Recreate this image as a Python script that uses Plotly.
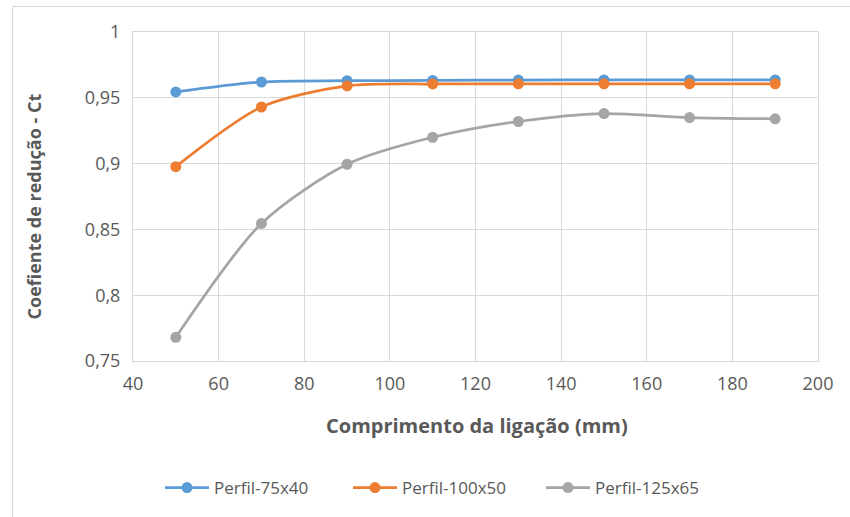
import plotly.graph_objects as go

x_vals = [50, 70, 90, 110, 130, 150, 170, 190]
perfil_75x40 = [0.9545, 0.962, 0.963, 0.9632, 0.9635, 0.9636, 0.9636, 0.9636]
perfil_100x50 = [0.8977, 0.943, 0.959, 0.9605, 0.9606, 0.9606, 0.9606, 0.9606]
perfil_125x65 = [0.768, 0.8545, 0.8995, 0.920, 0.932, 0.938, 0.935, 0.934]
names = ["Perfil-75x40", "Perfil-100x50", "Perfil-125x65"]
colors = ["#5B9BD5", "#ED7D31", "#A5A5A5"]
y_ticks = [0.75, 0.8, 0.85, 0.9, 0.95, 1]
y_ticktext = ["0,75", "0,8", "0,85", "0,9", "0,95", "1"]
x_ticks = [40, 60, 80, 100, 120, 140, 160, 180, 200]

FONT = "'Open Sans', sans-serif"
TXT = "#595959"

L, R, T, B = 133, 32, 32, 155
W, H = 850, 517
pw, ph = W - L - R, H - T - B

def px(xp):
    return (xp - L) / pw

def py(yp):
    return (H - B - yp) / ph

legend_ids = ["legend", "legend2", "legend3"]
legend_x = [160, 348, 541]

fig = go.Figure()
for ys, n, c, lg in zip([perfil_75x40, perfil_100x50, perfil_125x65], names, colors, legend_ids):
    fig.add_trace(go.Scatter(
        x=x_vals, y=ys, name=n, mode="lines+markers", legend=lg,
        line=dict(color=c, width=2.75, shape="spline", smoothing=0.8),
        marker=dict(color=c, size=11),
    ))

legend_common = dict(orientation="h", yanchor="middle", xanchor="left", itemwidth=44,
                     font=dict(family=FONT, size=17, color=TXT), bgcolor="rgba(0,0,0,0)")
layout_legends = {}
for lg, lx in zip(legend_ids, legend_x):
    layout_legends[lg] = dict(legend_common, x=px(lx), y=py(488))

fig.update_layout(
    width=W, height=H,
    margin=dict(l=L, r=R, t=T, b=B),
    paper_bgcolor="white", plot_bgcolor="white",
    font=dict(family=FONT, size=18, color=TXT),
    showlegend=True,
    xaxis=dict(range=[40, 200], tickvals=x_ticks, showgrid=True, gridcolor="#d9d9d9",
               gridwidth=1, zeroline=False, showline=True, linecolor="#d9d9d9", mirror=True,
               ticks="", ticklabelstandoff=6, tickfont=dict(family=FONT, size=18, color=TXT)),
    yaxis=dict(range=[0.75, 1], tickvals=y_ticks, ticktext=y_ticktext, showgrid=True,
               gridcolor="#d9d9d9", gridwidth=1, zeroline=False, showline=True,
               linecolor="#d9d9d9", mirror=True, ticks="", ticklabelstandoff=8,
               tickfont=dict(family=FONT, size=18, color=TXT)),
    annotations=[
        dict(text="<b>Comprimento da ligação (mm)</b>", x=px(477), y=py(427), xref="paper", yref="paper",
             showarrow=False, xanchor="center", yanchor="middle", font=dict(family=FONT, size=20, color=TXT)),
        dict(text="<b>Coefiente de redução - Ct</b>", x=px(34), y=py(207), xref="paper", yref="paper",
             showarrow=False, xanchor="center", yanchor="middle", textangle=-90,
             font=dict(family=FONT, size=18, color=TXT)),
    ],
    shapes=[dict(type="rect", xref="paper", yref="paper", x0=px(12.5), x1=px(860), y0=py(530), y1=py(6.5),
                 line=dict(color="#d9d9d9", width=1), layer="below")],
    **layout_legends,
)
fig.write_html("out.html")
